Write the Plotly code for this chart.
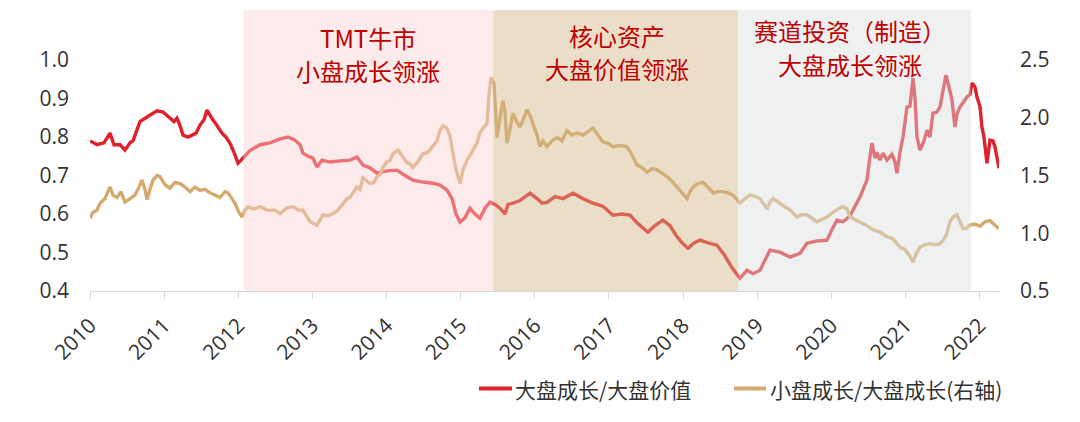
import plotly.graph_objects as go

# ---------------- data ----------------
red_t = [2010.000, 2010.094, 2010.189, 2010.270, 2010.324, 2010.405, 2010.472, 2010.540, 2010.580, 2010.634,
         2010.674, 2010.769, 2010.836, 2010.904, 2010.985, 2011.039, 2011.079, 2011.133, 2011.173, 2011.214,
         2011.254, 2011.322, 2011.376, 2011.430, 2011.484, 2011.538, 2011.578, 2011.619, 2011.659, 2011.713,
         2011.780, 2011.834, 2011.888, 2011.942, 2011.996, 2012.037, 2012.064, 2012.158, 2012.293, 2012.428,
         2012.563, 2012.671, 2012.765, 2012.832, 2012.873, 2012.940, 2013.008, 2013.062, 2013.129, 2013.237,
         2013.372, 2013.507, 2013.601, 2013.682, 2013.777, 2013.871, 2014.006, 2014.141, 2014.249, 2014.357,
         2014.491, 2014.626, 2014.721, 2014.815, 2014.883, 2014.937, 2014.991, 2015.058, 2015.125, 2015.193,
         2015.260, 2015.328, 2015.395, 2015.463, 2015.530, 2015.598, 2015.638, 2015.705, 2015.800, 2015.935,
         2016.029, 2016.097, 2016.164, 2016.272, 2016.380, 2016.515, 2016.650, 2016.784, 2016.919, 2017.054,
         2017.176, 2017.283, 2017.391, 2017.459, 2017.526, 2017.621, 2017.729, 2017.823, 2017.904, 2017.985,
         2018.066, 2018.147, 2018.228, 2018.336, 2018.457, 2018.552, 2018.660, 2018.767, 2018.862, 2018.943,
         2019.037, 2019.104, 2019.172, 2019.307, 2019.442, 2019.577, 2019.671, 2019.806, 2019.941, 2020.008,
         2020.076, 2020.157, 2020.251, 2020.318, 2020.386, 2020.440, 2020.480, 2020.521, 2020.548, 2020.588,
         2020.615, 2020.656, 2020.696, 2020.750, 2020.817, 2020.858, 2020.885, 2020.925, 2020.966, 2021.020,
         2021.060, 2021.101, 2021.128, 2021.155, 2021.195, 2021.249, 2021.289, 2021.330, 2021.370, 2021.424,
         2021.465, 2021.505, 2021.546, 2021.586, 2021.627, 2021.667, 2021.694, 2021.735, 2021.789, 2021.829,
         2021.869, 2021.896, 2021.937, 2021.964, 2022.004, 2022.031, 2022.058, 2022.099, 2022.139, 2022.180,
         2022.207, 2022.234, 2022.261]
red_v = [0.790, 0.780, 0.785, 0.810, 0.780, 0.780, 0.766, 0.785, 0.790, 0.820,
         0.840, 0.852, 0.860, 0.868, 0.865, 0.855, 0.849, 0.840, 0.849, 0.830,
         0.805, 0.800, 0.805, 0.810, 0.831, 0.845, 0.870, 0.855, 0.844, 0.830,
         0.810, 0.800, 0.784, 0.760, 0.732, 0.740, 0.745, 0.765, 0.780, 0.785,
         0.795, 0.800, 0.792, 0.780, 0.758, 0.750, 0.745, 0.722, 0.740, 0.735,
         0.738, 0.740, 0.748, 0.727, 0.720, 0.706, 0.712, 0.714, 0.700, 0.688,
         0.683, 0.680, 0.675, 0.662, 0.640, 0.600, 0.579, 0.590, 0.615, 0.600,
         0.589, 0.615, 0.631, 0.625, 0.615, 0.600, 0.625, 0.628, 0.635, 0.654,
         0.640, 0.628, 0.630, 0.645, 0.640, 0.654, 0.640, 0.628, 0.620, 0.597,
         0.600, 0.597, 0.575, 0.565, 0.553, 0.570, 0.584, 0.570, 0.545, 0.525,
         0.511, 0.525, 0.532, 0.525, 0.519, 0.495, 0.460, 0.433, 0.454, 0.445,
         0.454, 0.480, 0.506, 0.501, 0.488, 0.498, 0.524, 0.530, 0.532, 0.560,
         0.584, 0.580, 0.595, 0.620, 0.644, 0.670, 0.688, 0.750, 0.784, 0.745,
         0.760, 0.740, 0.758, 0.740, 0.755, 0.735, 0.706, 0.760, 0.800, 0.878,
         0.880, 0.953, 0.900, 0.800, 0.766, 0.790, 0.818, 0.800, 0.862, 0.865,
         0.878, 0.920, 0.961, 0.930, 0.896, 0.826, 0.860, 0.878, 0.895, 0.904,
         0.910, 0.940, 0.930, 0.904, 0.880, 0.826, 0.800, 0.732, 0.792, 0.790,
         0.774, 0.740, 0.719]

tan_t = [2010.000, 2010.040, 2010.094, 2010.135, 2010.202, 2010.270, 2010.310, 2010.364, 2010.418, 2010.472,
         2010.540, 2010.607, 2010.661, 2010.701, 2010.742, 2010.769, 2010.809, 2010.850, 2010.904, 2010.944,
         2011.012, 2011.079, 2011.146, 2011.214, 2011.281, 2011.349, 2011.416, 2011.484, 2011.551, 2011.619,
         2011.686, 2011.753, 2011.821, 2011.861, 2011.915, 2011.956, 2012.010, 2012.050, 2012.091, 2012.131,
         2012.212, 2012.293, 2012.387, 2012.495, 2012.563, 2012.657, 2012.738, 2012.806, 2012.873, 2012.927,
         2012.967, 2013.062, 2013.102, 2013.143, 2013.210, 2013.278, 2013.345, 2013.413, 2013.466, 2013.507,
         2013.561, 2013.601, 2013.642, 2013.682, 2013.736, 2013.777, 2013.831, 2013.871, 2013.912, 2013.952,
         2014.006, 2014.046, 2014.087, 2014.154, 2014.222, 2014.276, 2014.316, 2014.357, 2014.424, 2014.491,
         2014.559, 2014.626, 2014.680, 2014.721, 2014.761, 2014.815, 2014.856, 2014.896, 2014.937, 2014.991,
         2015.031, 2015.085, 2015.125, 2015.166, 2015.220, 2015.260, 2015.314, 2015.355, 2015.382, 2015.409,
         2015.449, 2015.476, 2015.490, 2015.530, 2015.571, 2015.598, 2015.624, 2015.665, 2015.705, 2015.759,
         2015.800, 2015.854, 2015.894, 2015.935, 2015.975, 2016.029, 2016.070, 2016.110, 2016.164, 2016.232,
         2016.299, 2016.366, 2016.434, 2016.501, 2016.569, 2016.650, 2016.717, 2016.784, 2016.852, 2016.919,
         2016.987, 2017.054, 2017.149, 2017.243, 2017.310, 2017.378, 2017.445, 2017.513, 2017.580, 2017.648,
         2017.715, 2017.783, 2017.850, 2017.918, 2017.985, 2018.053, 2018.093, 2018.133, 2018.201, 2018.268,
         2018.336, 2018.403, 2018.471, 2018.538, 2018.606, 2018.673, 2018.727, 2018.767, 2018.835, 2018.902,
         2018.970, 2019.037, 2019.091, 2019.131, 2019.172, 2019.212, 2019.280, 2019.347, 2019.442, 2019.536,
         2019.603, 2019.671, 2019.738, 2019.806, 2019.873, 2019.941, 2020.022, 2020.089, 2020.157, 2020.211,
         2020.251, 2020.318, 2020.386, 2020.467, 2020.561, 2020.656, 2020.750, 2020.831, 2020.925, 2020.993,
         2021.060, 2021.101, 2021.141, 2021.195, 2021.262, 2021.330, 2021.397, 2021.465, 2021.519, 2021.559,
         2021.600, 2021.640, 2021.694, 2021.735, 2021.775, 2021.815, 2021.869, 2021.937, 2022.004, 2022.072,
         2022.139, 2022.207, 2022.261]
tan_v = [1.13, 1.18, 1.20, 1.26, 1.30, 1.40, 1.33, 1.31, 1.36, 1.27,
         1.30, 1.33, 1.40, 1.46, 1.38, 1.29, 1.38, 1.46, 1.50, 1.49,
         1.42, 1.39, 1.44, 1.43, 1.40, 1.36, 1.40, 1.37, 1.38, 1.35,
         1.33, 1.31, 1.36, 1.35, 1.30, 1.26, 1.18, 1.14, 1.20, 1.23,
         1.21, 1.23, 1.20, 1.20, 1.17, 1.22, 1.23, 1.20, 1.20, 1.14,
         1.10, 1.07, 1.12, 1.16, 1.15, 1.17, 1.20, 1.26, 1.30, 1.31,
         1.36, 1.40, 1.38, 1.48, 1.45, 1.43, 1.44, 1.49, 1.51, 1.57,
         1.62, 1.63, 1.69, 1.72, 1.66, 1.61, 1.60, 1.57, 1.62, 1.69,
         1.70, 1.75, 1.80, 1.89, 1.93, 1.91, 1.84, 1.69, 1.55, 1.43,
         1.55, 1.63, 1.68, 1.72, 1.78, 1.87, 1.92, 1.95, 2.20, 2.35,
         2.30, 2.05, 1.83, 2.00, 2.15, 2.05, 1.78, 1.90, 2.04, 1.96,
         1.92, 2.00, 2.07, 2.02, 1.95, 1.85, 1.75, 1.80, 1.75, 1.80,
         1.83, 1.80, 1.89, 1.85, 1.87, 1.85, 1.88, 1.91, 1.85, 1.79,
         1.78, 1.75, 1.76, 1.75, 1.68, 1.59, 1.57, 1.53, 1.56, 1.55,
         1.52, 1.49, 1.45, 1.40, 1.36, 1.30, 1.36, 1.40, 1.43, 1.44,
         1.40, 1.35, 1.36, 1.36, 1.35, 1.33, 1.29, 1.26, 1.30, 1.33,
         1.32, 1.30, 1.25, 1.21, 1.27, 1.30, 1.27, 1.24, 1.20, 1.14,
         1.16, 1.16, 1.13, 1.10, 1.12, 1.14, 1.18, 1.21, 1.23, 1.21,
         1.14, 1.12, 1.10, 1.07, 1.03, 1.01, 0.97, 0.95, 0.88, 0.86,
         0.80, 0.75, 0.82, 0.88, 0.90, 0.91, 0.90, 0.91, 0.95, 1.00,
         1.10, 1.14, 1.16, 1.10, 1.04, 1.04, 1.07, 1.08, 1.06, 1.10,
         1.11, 1.07, 1.04]

series_names = ["大盘成长/大盘价值", "小盘成长/大盘成长(右轴)"]

x_ticks = list(range(2010, 2023))
x_tick_text = [str(y) for y in x_ticks]
left_ticks = [0.4, 0.5, 0.6, 0.7, 0.8, 0.9, 1.0]
right_ticks = [0.5, 1.0, 1.5, 2.0, 2.5]

period_start = [2012.07, 2015.44, 2018.74]
period_end = [2015.44, 2018.74, 2021.88]
period_line1 = ["TMT牛市", "核心资产", "赛道投资（制造）"]
period_line2 = ["小盘成长领涨", "大盘价值领涨", "大盘成长领涨"]
period_label_x = [2013.75, 2017.11, 2020.25]
period_fill = ["rgb(250,211,211)", "rgb(211,182,133)", "rgb(220,224,224)"]

# ---------------- styling ----------------
RED = "#E0202A"
TAN = "#D4AA6E"
TXT = "#333333"
CJK = "Noto Sans CJK SC"
NUM = "Open Sans"

fig = go.Figure()
fig.add_trace(go.Scatter(x=red_t, y=red_v, mode="lines", name=series_names[0],
                         line=dict(color=RED, width=3.4), yaxis="y"))
fig.add_trace(go.Scatter(x=tan_t, y=tan_v, mode="lines", name=series_names[1],
                         line=dict(color=TAN, width=3.4), yaxis="y2"))

shapes = []
for s, e, c in zip(period_start, period_end, period_fill):
    shapes.append(dict(type="rect", xref="x", yref="paper", x0=s, x1=e, y0=0, y1=1,
                       fillcolor=c, opacity=0.45, line=dict(width=0), layer="above"))

W, H = 909.0, 281.0
def py2paper(py):
    return (291 - py) / H
def px2paper(px):
    return (px - 90) / W

# period labels: two lines each, placed at their pixel rows in the reference
line_rows = [(37, 70), (35, 68), (31, 64)]
annotations = []
for l1, l2, lx, (r1, r2) in zip(period_line1, period_line2, period_label_x, line_rows):
    for txt, row in ((l1, r1), (l2, r2)):
        annotations.append(dict(x=lx, y=py2paper(row), xref="x", yref="paper", text=txt,
                                showarrow=False, xanchor="center", yanchor="middle",
                                font=dict(family=CJK, size=24, color="#C00000")))

# manual legend (below the plot)
leg = [(479, 512, 513, RED, series_names[0]), (734, 766, 768, TAN, series_names[1])]
for x0, x1, tx, col, nm in leg:
    yy = py2paper(388.5)
    shapes.append(dict(type="line", xref="paper", yref="paper", x0=px2paper(x0), x1=px2paper(x1),
                       y0=yy, y1=yy, line=dict(color=col, width=4)))
    annotations.append(dict(x=px2paper(tx), y=yy, xref="paper", yref="paper", text=nm, showarrow=False,
                            xanchor="left", yanchor="middle",
                            font=dict(family=CJK, size=21, color=TXT)))

fig.update_layout(
    width=1080, height=422,
    margin=dict(l=90, r=81, t=10, b=131, pad=0),
    paper_bgcolor="white", plot_bgcolor="white",
    showlegend=False,
    shapes=shapes, annotations=annotations,
    xaxis=dict(range=[2010, 2022.261], tickvals=x_ticks, ticktext=x_tick_text,
               tickangle=-45, showgrid=False, zeroline=False,
               showline=True, linecolor="#D9D9D9", linewidth=1,
               ticks="outside", ticklen=7, tickcolor="#D9D9D9", tickwidth=1,
               ticklabelstandoff=6,
               tickfont=dict(family=NUM, size=21, color=TXT)),
    yaxis=dict(range=[0.4, 1.13], tickvals=left_ticks, tickformat=".1f",
               showgrid=False, zeroline=False, showline=False, ticks="",
               ticklabelstandoff=20,
               tickfont=dict(family=NUM, size=21, color=TXT)),
    yaxis2=dict(range=[0.5, 2.933], tickvals=right_ticks, tickformat=".1f",
                overlaying="y", side="right",
                showgrid=False, zeroline=False, showline=False, ticks="",
                ticklabelstandoff=20,
                tickfont=dict(family=NUM, size=21, color=TXT)),
)

fig.write_html("out.html")
